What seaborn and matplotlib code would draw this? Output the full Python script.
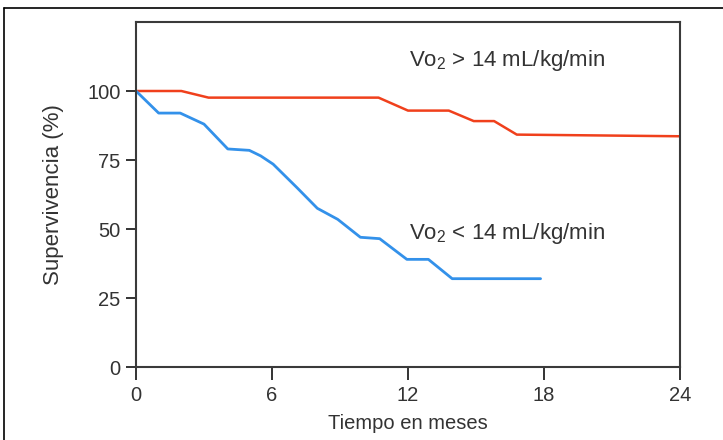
import pandas as pd
import matplotlib
matplotlib.use('agg')
import matplotlib.pyplot as plt
from matplotlib.lines import Line2D
import seaborn as sns

# survival curves (months, %)
months_high = [0, 2.0, 3.2, 10.7, 12.0, 13.8, 14.9, 15.8, 16.8, 24]
surv_high = [100, 100, 97.6, 97.6, 92.9, 92.9, 89.1, 89.1, 84.2, 83.6]

months_low = [0, 1.0, 1.95, 3.0, 4.05, 5.0, 5.5, 6.05, 7.1, 8.0, 8.9, 9.9, 10.75, 11.95, 12.9, 13.95, 17.85]
surv_low = [100, 92, 92, 88, 79, 78.5, 76.5, 73.5, 65, 57.5, 53.5, 47, 46.5, 39, 39, 32, 32]

x_ticks = [0, 6, 12, 18, 24]
y_ticks = [0, 25, 50, 75, 100]

label_high = r'Vo$_2$ > 14 mL/kg/min'
label_low = r'Vo$_2$ < 14 mL/kg/min'

sns.set_style('white')
plt.rcParams['font.family'] = ['Liberation Sans', 'DejaVu Sans']
plt.rcParams['mathtext.fontset'] = 'custom'
plt.rcParams['mathtext.rm'] = 'Liberation Sans'
plt.rcParams['mathtext.it'] = 'Liberation Sans'

text_col = '#333333'
red = '#f0401c'
blue = '#3391ea'

high = pd.DataFrame({'mes': months_high, 'surv': surv_high})
low = pd.DataFrame({'mes': months_low, 'surv': surv_low})

fig = plt.figure(figsize=(7.23, 4.4), dpi=100)
ax = fig.add_axes([0.1881, 0.1659, 0.7524, 0.7841])

sns.lineplot(data=high, x='mes', y='surv', ax=ax, color=red, linewidth=1.8, sort=False)
sns.lineplot(data=low, x='mes', y='surv', ax=ax, color=blue, linewidth=2.0, sort=False)

ax.set_xlim(0, 24)
ax.set_ylim(0, 125)
ax.set_xticks(x_ticks)
ax.set_yticks(y_ticks)
ax.tick_params(axis='both', direction='out', width=1.4, color=text_col,
               labelsize=14.5, labelcolor=text_col, bottom=True, left=True)
ax.tick_params(axis='x', length=9.5, pad=4.5)
ax.tick_params(axis='y', length=7, pad=4)
for s in ax.spines.values():
    s.set_color('#3a3a3a')
    s.set_linewidth(1.5)

ax.set_xlabel('Tiempo en meses', fontsize=14.5, color=text_col, labelpad=6)
ax.set_ylabel('Supervivencia (%)', fontsize=16, color=text_col, labelpad=17)

ax.text(12.05, 111.2, label_high, fontsize=16, color=text_col, va='center', ha='left')
ax.text(12.05, 48.2, label_low, fontsize=16, color=text_col, va='center', ha='left')

# outer frame around the picture
fig.add_artist(Line2D([4 / 723, 1], [1 - 8 / 440, 1 - 8 / 440], transform=fig.transFigure,
                      color='black', linewidth=1.2))
fig.add_artist(Line2D([4 / 723, 4 / 723], [0, 1 - 8 / 440], transform=fig.transFigure,
                      color='black', linewidth=1.2))

fig.savefig('out.png', dpi=100)
